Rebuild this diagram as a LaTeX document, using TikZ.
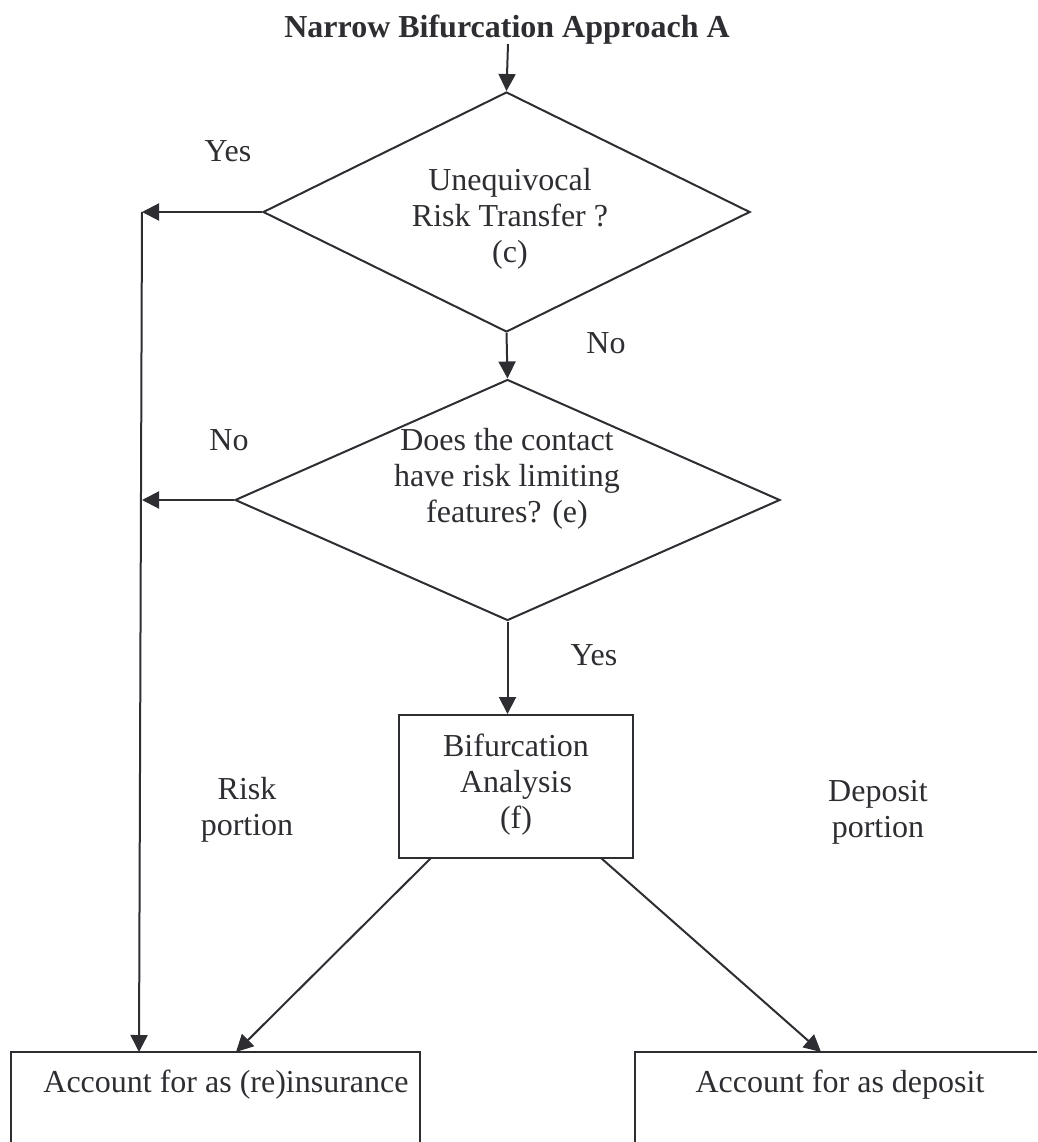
\documentclass[tikz,border=0pt]{standalone}
\usepackage{fontspec}
\setmainfont{Liberation Serif}
\usetikzlibrary{shapes.geometric,arrows.meta}
\definecolor{ink}{RGB}{45,45,50}
\begin{document}
\begin{tikzpicture}[x=1pt,y=-1pt,
  every node/.style={text=ink},
  txt/.style={font=\fontsize{32}{36}\selectfont, align=center, inner sep=0pt},
  dia/.style={draw=ink, line width=2pt, diamond, inner sep=0pt, aspect=2},
  box/.style={draw=ink, line width=2pt, rectangle, inner sep=0pt},
  ln/.style={draw=ink, line width=2pt},
  arr/.style={ln, -{Triangle[length=17pt,width=17pt]}}]
\useasboundingbox (0,0) rectangle (1037,1142);
% title
\node[txt, font=\fontsize{32}{36}\selectfont\bfseries] (title) at (507,30) {Narrow Bifurcation Approach A};
% decisions
\node[dia, minimum width=487pt, minimum height=240pt] (d1) at (506.5,212) {};
\node[txt] (d1t) at (510,219) {Unequivocal\\Risk Transfer ?\\(c)};
\node[dia, minimum width=545pt, minimum height=241pt] (d2) at (507.5,500) {};
\node[txt] (d2t) at (507,479) {Does the contact\\have risk limiting\\features? (e)};
% process
\node[box, minimum width=234pt, minimum height=143pt] (f) at (516,786.5) {};
\node[txt] (ft) at (516,785) {Bifurcation\\Analysis\\(f)};
% outcome boxes (open at bottom)
\node[inner sep=0pt, minimum width=409pt, minimum height=90pt] (acc1) at (215.5,1097) {};
\draw[ln] (acc1.south west) -- (acc1.north west) -- (acc1.north east) -- (acc1.south east);
\node[txt] (acc1t) at (226,1085) {Account for as (re)insurance};
\node[inner sep=0pt, minimum width=402pt, minimum height=90pt] (acc2) at (836,1097) {};
\draw[ln] (acc2.south west) -- (acc2.north west) -- (acc2.north east);
\node[txt] (acc2t) at (840,1085) {Account for as deposit};
% labels
\node[txt] (yes1) at (228,151) {Yes};
\node[txt] (no1) at (606,343) {No};
\node[txt] (no2) at (229,440) {No};
\node[txt] (yes2) at (594,655) {Yes};
\node[txt] (risk) at (247,810) {Risk\\portion};
\node[txt] (dep) at (878,812) {Deposit\\portion};
% helper coordinates
\coordinate (ttop) at (508,44);
\coordinate (sp1) at (142,212);
\coordinate (sp2) at (142,500);
\coordinate (spb) at (139,1052);
\coordinate (fl) at (431,858);
\coordinate (fr) at (601,858);
\coordinate (a1) at (236,1052);
\coordinate (a2) at (821,1052);
% connectors
\draw[arr] (ttop) -- (d1.north);
\draw[arr] (d1.west) -- (sp1);
\draw[arr] (d1.south) -- (d2.north);
\draw[arr] (d2.west) -- (sp2);
\draw[arr] (sp1) -- (spb);
\draw[arr] (d2.south) -- (d2.south |- f.north);
\draw[arr] (fl) -- (a1);
\draw[arr] (fr) -- (a2);
\end{tikzpicture}
\end{document}
